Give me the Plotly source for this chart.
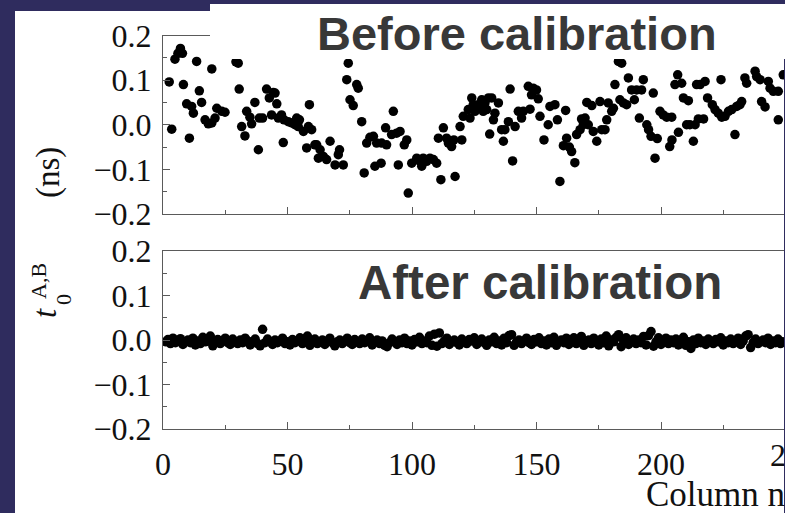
import plotly.graph_objects as go

W, H = 785, 513

# ---- data ----
before_x = [3.5, 2.5, 4.8, 6.0, 7.0, 7.8, 10.6, 8.2, 9.5, 11.5, 12.2, 13.5, 14.6, 15.5, 16.9, 18.2, 19.6, 20.9,
            19.6, 21.6, 23.6, 24.9, 29.3, 30.2, 30.6, 31.6, 32.9, 33.6, 34.9, 35.6, 36.9, 38.3, 38.7, 40.0,
            41.6, 42.7, 44.3, 45.0, 43.6, 45.7, 46.3, 47.6, 48.6, 48.3, 50.3, 51.7, 53.0, 53.7, 54.8, 54.3,
            56.4, 58.4, 59.7, 58.8, 57.7, 61.0, 62.4, 61.7, 63.1, 64.4, 65.7, 67.1, 69.1, 70.4, 70.9, 72.4,
            74.4, 73.8, 77.8, 78.4, 75.1, 76.4, 79.8, 80.8, 81.8, 83.1, 84.5, 85.8, 87.8, 89.8, 85.1, 87.6,
            89.4, 92.5, 91.8, 93.8, 95.2, 94.5, 96.9, 97.9, 98.5, 99.9, 101.9, 103.2, 104.5, 105.9, 107.2,
            108.6, 109.9, 103.9, 111.6, 117.3, 110.6, 112.6, 113.9, 114.6, 115.9, 116.8, 119.3, 120.0, 120.6,
            122.6, 124.0, 123.3, 124.6, 125.3, 126.6, 128.0, 129.3, 130.7, 132.0, 128.6, 130.0, 131.2, 133.3,
            132.7, 134.7, 136.0, 136.7, 137.3, 138.7, 139.4, 140.4, 141.4, 142.7, 144.0, 144.7, 146.7, 148.7,
            150.0, 148.0, 150.7, 147.4, 151.4, 153.0, 154.7, 155.4, 157.4, 158.4, 159.4, 160.8, 162.1, 163.2,
            164.1, 165.4, 161.7, 166.1, 167.5, 168.8, 169.5, 170.8, 168.1, 170.2, 172.2, 175.5, 172.8, 174.2,
            176.2, 177.5, 178.2, 178.8, 180.2, 180.9, 181.5, 182.9, 184.2, 183.5, 184.9, 186.2, 186.9, 188.2,
            190.2, 192.2, 192.9, 189.3, 191.3, 194.3, 195.0, 196.0, 196.9, 197.6, 198.5, 199.6, 200.9, 202.3,
            204.3, 203.5, 204.4, 205.6, 206.7, 208.3, 207.0, 209.0, 211.0, 210.3, 211.6, 213.7, 213.0, 214.3,
            215.7, 217.7, 215.0, 217.1, 218.7, 220.6, 221.7, 223.0, 224.4, 225.7, 227.1, 228.4, 230.4, 231.7,
            232.4, 224.1, 229.7, 233.7, 234.4, 237.8, 238.4, 239.8, 240.4, 241.8, 243.1, 243.8, 245.1, 247.1,
            247.1, 249.1]
before_y = [-0.010, 0.096, 0.147, 0.160, 0.171, 0.160, -0.030, 0.090, 0.047, 0.041, 0.026, 0.142, 0.076, 0.050,
            0.011, 0.002, 0.004, 0.015, 0.125, 0.037, 0.030, 0.028, 0.141, 0.138, 0.080, -0.004, -0.025, 0.030,
            0.017, 0.002, 0.050, -0.056, 0.015, 0.015, 0.080, 0.060, 0.072, 0.071, 0.022, 0.047, 0.015, 0.022,
            0.011, -0.040, 0.007, 0.004, 0.000, 0.015, 0.011, -0.004, -0.015, -0.004, -0.011, 0.045, -0.052,
            -0.045, -0.075, -0.045, -0.056, -0.071, -0.078, -0.037, -0.090, -0.067, -0.056, -0.090, 0.138, 0.101,
            0.090, 0.082, 0.056, 0.043, 0.007, -0.108, -0.041, -0.028, -0.026, -0.041, -0.041, -0.045, -0.093,
            -0.086, -0.007, 0.030, -0.022, -0.019, -0.015, -0.090, -0.045, -0.034, -0.153, -0.086, -0.075, -0.082,
            -0.075, -0.082, -0.075, -0.078, -0.086, -0.093, -0.123, -0.116, -0.030, -0.007, -0.030, -0.041,
            -0.049, -0.034, -0.004, -0.034, 0.019, 0.034, 0.060, 0.015, 0.045, 0.030, 0.045, 0.056, 0.049, 0.060,
            0.060, 0.030, 0.034, -0.021, 0.026, 0.011, 0.049, -0.011, -0.037, -0.011, 0.007, 0.080, -0.081,
            -0.004, 0.030, 0.015, 0.030, 0.086, 0.082, 0.078, 0.067, 0.058, 0.035, 0.019, -0.034, 0.000, 0.041,
            0.045, 0.011, -0.127, -0.047, -0.030, -0.050, -0.060, -0.085, 0.032, -0.022, -0.011, 0.000, 0.015,
            0.000, 0.013, 0.050, 0.043, 0.052, -0.015, -0.037, -0.011, -0.011, 0.011, 0.049, 0.030, 0.037, 0.090,
            0.142, 0.138, 0.056, 0.049, 0.045, 0.105, 0.078, 0.078, 0.078, 0.101, 0.056, 0.015, 0.000, -0.011,
            -0.026, 0.071, -0.075, -0.031, 0.030, 0.022, 0.017, 0.017, -0.049, -0.034, 0.090, 0.112, 0.093,
            -0.017, 0.060, 0.054, 0.000, 0.000, 0.000, -0.037, 0.090, 0.090, 0.097, 0.013, 0.013, 0.060, 0.045,
            0.034, 0.026, 0.017, 0.019, 0.030, 0.034, 0.041, 0.045, 0.052, 0.101, -0.022, 0.105, 0.093, 0.120,
            0.108, 0.101, 0.052, 0.040, 0.097, 0.082, 0.075, 0.075, 0.011, 0.112]

after_x = list(range(1, 250))
after_y = [-0.004, 0.001, -0.008, 0.004, -0.006, -0.002, 0.003, -0.010, -0.004, 0.000,
           -0.006, 0.004, -0.011, -0.002, -0.008, 0.006, -0.004, 0.002, 0.009, -0.013,
           -0.004, 0.001, -0.008, -0.002, 0.004, -0.006, -0.010, 0.002, -0.004, -0.008,
           0.000, -0.006, 0.004, -0.002, -0.011, -0.004, 0.002, -0.008, -0.013, 0.024,
           -0.006, 0.002, -0.004, -0.010, 0.000, -0.006, -0.002, 0.004, -0.008, -0.004,
           -0.011, 0.001, -0.006, -0.002, 0.005, -0.008, -0.004, 0.009, -0.012, -0.002,
           0.002, -0.008, -0.004, 0.000, -0.010, -0.002, 0.004, -0.006, -0.013, -0.004,
           0.000, -0.008, -0.002, 0.004, -0.006, -0.010, 0.001, -0.004, -0.008, 0.002,
           -0.006, -0.002, 0.005, -0.011, -0.004, 0.000, -0.008, -0.002, -0.012, -0.015,
           -0.006, 0.002, -0.004, -0.010, 0.000, -0.006, 0.004, -0.008, -0.002, -0.011,
           0.001, -0.004, 0.006, -0.008, -0.002, -0.006, 0.009, -0.012, 0.013, -0.014,
           0.016, -0.008, -0.002, 0.004, -0.010, -0.004, 0.000, -0.006, -0.011, 0.002,
           -0.004, -0.008, 0.001, -0.002, 0.005, -0.010, -0.004, 0.002, -0.006, -0.012,
           0.000, -0.004, 0.006, -0.008, -0.002, -0.011, 0.004, -0.006, 0.010, 0.012,
           -0.012, -0.004, 0.000, -0.008, -0.002, 0.004, -0.006, -0.010, 0.001, -0.004,
           0.005, -0.008, -0.002, -0.011, 0.002, -0.006, 0.006, -0.012, -0.004, 0.000,
           -0.006, 0.004, -0.010, -0.002, 0.005, -0.008, -0.004, 0.008, -0.012, -0.002,
           0.000, -0.008, 0.004, -0.004, -0.011, 0.002, -0.006, 0.009, -0.013, 0.000,
           -0.004, 0.006, 0.012, -0.015, -0.002, 0.005, -0.010, -0.004, 0.002, -0.008,
           0.000, -0.006, 0.008, -0.011, 0.010, 0.019, -0.014, -0.004, 0.005, -0.010,
           -0.002, 0.004, -0.008, 0.000, -0.006, 0.002, -0.011, -0.004, 0.006, -0.012,
           -0.004, -0.019, 0.000, -0.008, 0.004, -0.006, -0.002, -0.010, 0.002, -0.004,
           -0.008, 0.001, -0.004, 0.005, -0.011, -0.002, -0.006, 0.002, -0.008, -0.004,
           0.004, -0.010, -0.002, 0.009, 0.012, -0.017, -0.006, 0.002, -0.008, -0.004,
           0.000, -0.006, 0.004, -0.010, -0.002, -0.006, 0.002, -0.008, -0.004]

y_tickvals = [-0.2, -0.1, 0.0, 0.1, 0.2]
y_ticktext = ["\u22120.2", "\u22120.1", "0.0", "0.1", "0.2"]
x_tickvals = [0, 50, 100, 150, 200]
x_ticktext = ["0", "50", "100", "150", "200"]
title_top = "Before calibration"
title_bottom = "After calibration"
x_title = "Column number"

# ---- layout helpers (pixel -> paper) ----
def px(x):
    return x / W

def py(y):
    return 1 - y / H

NAVY = "#2f2c5e"
AXC = "#5a5a5a"
SERIF = "Liberation Serif, Times New Roman, serif"
SANS = "Liberation Sans, Arial, sans-serif"
TICKF = dict(family=SERIF, size=32, color="#111111")

x0_px, x_right_px = 163, 784
scale = 2.49
xmax = (x_right_px - x0_px) / scale

fig = go.Figure()
fig.add_trace(go.Scatter(x=before_x, y=before_y, mode="markers",
                         marker=dict(color="black", size=9.5, line=dict(width=0)),
                         xaxis="x", yaxis="y", showlegend=False))
fig.add_trace(go.Scatter(x=after_x, y=after_y, mode="markers",
                         marker=dict(color="black", size=9.5, line=dict(width=0)),
                         xaxis="x2", yaxis="y2", showlegend=False))

xcommon = dict(range=[0, xmax], domain=[px(x0_px), px(x_right_px)], showgrid=False, zeroline=False,
               automargin=False,
               showline=True, linecolor=AXC, linewidth=1.3, mirror=True,
               ticks="inside", ticklen=7, tickwidth=1.2, tickcolor=AXC,
               tickvals=x_tickvals, ticktext=x_ticktext, tickfont=TICKF,
               minor=dict(dtick=25, tick0=0, ticks="inside", ticklen=3.5, tickwidth=1.2, tickcolor=AXC))
ycommon = dict(range=[-0.2, 0.2], showgrid=False, zeroline=False, automargin=False,
               showline=True, linecolor=AXC, linewidth=1.3, mirror=False,
               ticks="inside", ticklen=7, tickwidth=1.2, tickcolor=AXC,
               tickvals=y_tickvals, ticktext=y_ticktext, tickfont=TICKF,
               minor=dict(dtick=0.05, tick0=0, ticks="inside", ticklen=3.5, tickwidth=1.2, tickcolor=AXC),
               ticklabelstandoff=4)

fig.update_layout(
    width=W, height=H,
    margin=dict(l=0, r=0, t=0, b=0, pad=0, autoexpand=False),
    paper_bgcolor=NAVY, plot_bgcolor="rgba(0,0,0,0)",
    xaxis=dict(xcommon, anchor="y", showticklabels=False),
    yaxis=dict(ycommon, anchor="x", domain=[py(214), py(35.5)]),
    xaxis2=dict(xcommon, anchor="y2", showticklabels=True, ticklabelstandoff=6),
    yaxis2=dict(ycommon, anchor="x2", domain=[py(429), py(251)]),
    shapes=[
        dict(type="rect", xref="paper", yref="paper", x0=px(15), x1=px(784), y0=py(513), y1=py(11),
             fillcolor="white", line=dict(width=0), layer="below"),
        dict(type="rect", xref="paper", yref="paper", x0=px(210), x1=px(785), y0=py(59), y1=py(4),
             fillcolor="white", line=dict(width=0), layer="above"),
    ],
    annotations=[
        dict(text="<b>" + title_top + "</b>", xref="paper", yref="paper", x=px(516.5), y=py(33),
             xanchor="center", yanchor="middle", showarrow=False,
             font=dict(family=SANS, size=47, color="#383838")),
        dict(text="<b>" + title_bottom + "</b>", xref="paper", yref="paper", x=px(539.5), y=py(282),
             xanchor="center", yanchor="middle", showarrow=False,
             font=dict(family=SANS, size=47.5, color="#383838")),
        dict(text=x_title, xref="paper", yref="paper", x=px(644), y=py(494),
             xanchor="left", yanchor="middle", showarrow=False,
             font=dict(family=SERIF, size=35, color="#111111")),
        dict(text="250", xref="paper", yref="paper", x=px(768), y=py(455),
             xanchor="left", yanchor="middle", showarrow=False,
             font=TICKF),
        dict(text="(ns)", xref="paper", yref="paper", x=px(48), y=py(173), textangle=-90,
             xanchor="center", yanchor="middle", showarrow=False,
             font=dict(family=SERIF, size=33, color="#111111")),
        dict(text="<i>t</i>", xref="paper", yref="paper", x=px(45), y=py(313), textangle=-90,
             xanchor="center", yanchor="middle", showarrow=False,
             font=dict(family=SERIF, size=33, color="#111111")),
        dict(text="0", xref="paper", yref="paper", x=px(63), y=py(300), textangle=-90,
             xanchor="center", yanchor="middle", showarrow=False,
             font=dict(family=SERIF, size=22, color="#111111")),
        dict(text="A,B", xref="paper", yref="paper", x=px(38), y=py(281), textangle=-90,
             xanchor="center", yanchor="middle", showarrow=False,
             font=dict(family=SERIF, size=22, color="#111111")),
    ],
)

fig.write_html("out.html", config={"displayModeBar": False},
               post_script="document.body.style.margin='0px';document.body.style.overflow='hidden';")
